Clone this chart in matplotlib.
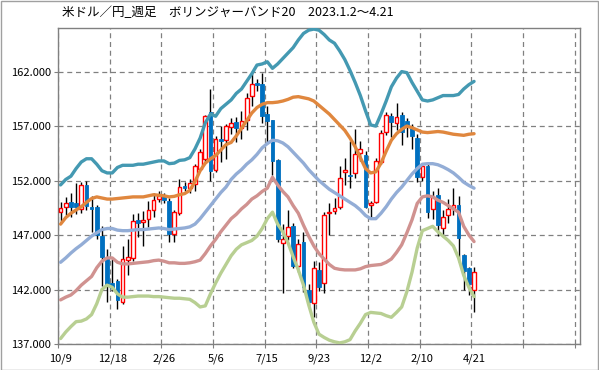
import numpy as np
import matplotlib.pyplot as plt
from matplotlib.patches import Rectangle

plt.rcParams['font.family'] = ['Noto Sans CJK JP', 'DejaVu Sans']

title = "米ドル／円_週足　ボリンジャーバンド20　2023.1.2～4.21"
date_labels = ["10/9", "12/18", "2/26", "5/6", "7/15", "9/23", "12/2", "2/10", "4/21"]

# weekly candles (open, high, low, close)
opens = [149.1, 149.6, 150.0, 149.9, 149.4, 151.55, 149.6, 149.6, 146.9, 144.9,
         142.6, 142.8, 140.9, 144.7, 144.9, 148.4, 148.2, 148.5, 149.3, 150.3,
         150.55, 150.15, 147.1, 149.05, 151.5, 151.35, 151.65, 153.1, 154.0, 158.25,
         153.0, 155.8, 155.7, 156.95, 157.4, 156.85, 157.55, 159.8, 160.95, 160.85,
         158.1, 157.55, 153.85, 146.3, 146.9, 147.8, 144.15, 146.35, 142.0, 140.75,
         143.8, 142.6, 149.0, 149.2, 149.6, 152.8, 152.55, 152.7, 154.55, 154.3,
         149.8, 150.0, 153.7, 156.45, 157.9, 157.3, 158.0, 157.45, 156.8, 155.9,
         152.35, 153.3, 149.35, 150.7, 147.65, 148.85, 149.45, 149.8, 145.2, 144.0,
         142.0]
highs = [150.0, 150.5, 150.9, 151.8, 151.9, 152.0, 150.6, 149.8, 147.8, 145.7,
         144.8, 143.0, 146.0, 146.6, 148.9, 149.0, 149.2, 150.1, 150.9, 151.0,
         150.9, 150.4, 149.3, 152.1, 151.9, 152.1, 153.5, 154.9, 158.0, 160.4,
         156.1, 157.0, 157.2, 157.7, 157.8, 158.4, 160.0, 162.0, 161.3, 161.9,
         158.85, 157.6, 154.0, 148.0, 149.3, 148.1, 146.6, 147.3, 142.5, 144.6,
         144.5, 149.1, 149.9, 150.4, 153.3, 154.1, 155.6, 156.7, 155.6, 154.7,
         150.1, 154.1, 156.6, 158.3, 158.2, 159.1, 158.3, 157.7, 157.2, 156.3,
         153.6, 153.5, 151.0, 151.3, 149.3, 150.3, 151.3, 150.6, 145.3, 144.1,
         144.1]
lows = [148.3, 148.8, 148.7, 148.9, 149.0, 149.3, 147.3, 146.6, 142.3, 140.9,
        141.9, 140.2, 140.7, 143.3, 144.6, 146.8, 146.0, 147.7, 148.7, 150.0,
        149.9, 146.4, 146.4, 148.8, 151.0, 150.9, 151.0, 153.0, 153.6, 152.0,
        152.8, 153.7, 154.0, 156.3, 155.5, 155.8, 156.6, 158.8, 160.2, 157.3,
        155.4, 152.5, 146.4, 141.7, 146.5, 144.0, 143.6, 141.8, 140.5, 139.5,
        141.9, 141.7, 147.0, 148.9, 149.4, 151.6, 151.3, 152.2, 153.8, 149.5,
        148.6, 149.9, 153.5, 156.2, 156.0, 156.6, 155.3, 156.0, 154.9, 151.9,
        152.0, 148.6, 148.5, 146.9, 146.9, 148.1, 148.8, 144.5, 142.0, 141.5,
        139.9]
closes = [149.5, 149.9, 149.6, 149.6, 151.55, 149.65, 149.4, 147.0, 144.95, 142.3,
          142.1, 141.0, 144.8, 144.95, 148.25, 148.1, 148.4, 149.3, 150.25, 150.6,
          150.2, 147.05, 149.1, 151.4, 151.3, 151.8, 153.3, 154.6, 157.9, 152.9,
          155.85, 155.6, 157.0, 157.3, 156.85, 157.45, 159.6, 160.9, 160.8, 157.9,
          157.5, 153.8, 146.6, 146.65, 147.7, 144.2, 146.2, 142.2, 140.9, 144.0,
          142.2, 148.8, 149.1, 149.5, 152.25, 153.0, 152.4, 154.4, 154.85, 149.6,
          149.95, 153.8, 156.4, 158.0, 157.4, 157.85, 156.5, 156.95, 156.1, 152.35,
          153.35, 149.1, 150.5, 147.95, 148.65, 149.4, 149.75, 146.75, 143.7, 142.5,
          143.65]

# bollinger bands (20 weeks)
upper2 = [151.6, 152.1, 152.4, 153.1, 153.7, 154.0, 154.0, 153.5, 152.9, 152.7,
          152.7, 153.2, 153.4, 153.4, 153.4, 153.5, 153.5, 153.6, 153.7, 153.8,
          153.8, 153.55, 153.6, 153.85, 153.9, 154.1, 154.9, 155.9, 157.3, 158.1,
          157.9, 158.6, 159.0, 159.4, 160.0, 160.4, 161.1, 161.8, 162.6, 162.7,
          162.9, 162.3, 162.7, 163.2, 163.7, 164.2, 164.9, 165.5, 165.8, 165.9,
          165.8, 165.4, 164.9, 164.6, 163.9, 163.1, 162.1, 161.0, 159.8, 158.4,
          157.1, 157.0, 158.1, 159.3, 160.6, 161.4, 162.0, 161.9, 161.0, 160.2,
          159.4, 159.3, 159.4, 159.6, 159.8, 159.8, 159.8, 159.9, 160.4, 160.8,
          161.1]
upper1 = [148.0, 148.6, 149.0, 149.3, 149.6, 150.0, 150.35, 150.5, 150.4, 150.3,
          150.3, 150.35, 150.4, 150.45, 150.5, 150.5, 150.5, 150.6, 150.7, 150.65,
          150.6, 150.5, 150.55, 150.7, 150.8, 151.1, 151.9, 152.9, 153.6, 154.0,
          154.3, 154.8, 155.3, 155.5, 156.1, 156.8, 157.5, 158.2, 158.7, 159.0,
          159.15, 159.15, 159.2, 159.3, 159.45, 159.65, 159.7, 159.6, 159.5, 159.3,
          158.9, 158.5, 158.1, 157.6, 157.1, 156.6, 155.9, 155.1, 154.1, 153.1,
          152.7, 152.8, 153.6, 154.7, 155.7, 156.3, 156.7, 157.0, 156.85, 156.65,
          156.45, 156.4, 156.45, 156.5, 156.45, 156.35, 156.25, 156.2, 156.15, 156.25,
          156.3]
middle = [144.5, 144.9, 145.35, 145.75, 146.1, 146.5, 146.9, 147.2, 147.5, 147.6,
          147.6, 147.45, 147.4, 147.4, 147.45, 147.5, 147.5, 147.55, 147.6, 147.65,
          147.6, 147.5, 147.55, 147.6, 147.65, 147.75, 148.0, 148.5, 149.1, 149.7,
          150.3, 150.9, 151.4, 152.1, 152.6, 153.0, 153.5, 153.9, 154.4, 155.0,
          155.4, 155.7, 155.65, 155.45, 155.1, 154.6, 154.1, 153.6, 153.0, 152.5,
          152.0, 151.6, 151.2, 150.9, 150.6, 150.3, 150.0, 149.7, 149.3, 148.8,
          148.5, 148.5, 149.0, 149.6, 150.3, 150.9, 151.4, 152.0, 152.6, 153.1,
          153.5, 153.55, 153.55, 153.45, 153.25, 153.0, 152.7, 152.3, 151.85, 151.55,
          151.3]
lower1 = [141.05, 141.3, 141.5, 141.9, 142.4, 142.8, 143.2, 144.0, 144.6, 144.9,
          144.9, 144.5, 144.35, 144.35, 144.4, 144.45, 144.5, 144.55, 144.65, 144.7,
          144.6, 144.45, 144.45, 144.4, 144.4, 144.45, 144.55, 144.7, 145.3, 146.0,
          146.6, 147.3, 147.9, 148.5, 148.9, 149.4, 149.8, 150.3, 150.6, 151.0,
          151.3, 152.3, 151.6, 151.0, 150.5, 149.7, 149.0, 147.9, 146.9, 146.0,
          145.3, 144.8, 144.3, 143.95, 143.85, 143.8, 143.8, 143.8, 143.9, 144.1,
          144.2, 144.25, 144.3, 144.5, 144.8, 145.4, 146.1, 147.2, 148.4, 149.9,
          150.5, 150.6, 150.5, 150.2, 150.0, 149.7, 149.4, 149.1, 147.8, 147.0,
          146.4]
lower2 = [137.5, 138.1, 138.6, 139.05, 139.1, 139.3, 139.7, 140.7, 142.0, 142.4,
          142.2, 141.6, 141.3, 141.3, 141.35, 141.4, 141.4, 141.4, 141.35, 141.35,
          141.3, 141.25, 141.2, 141.2, 141.15, 141.1, 140.8, 140.4, 140.5, 141.6,
          142.6, 143.5, 144.3, 145.1, 145.7, 146.1, 146.3, 146.5, 146.9, 147.6,
          148.5, 149.1, 148.0, 147.3, 146.3, 145.0, 143.8, 142.4, 140.6, 139.0,
          137.9, 137.6, 137.35, 137.2, 137.1, 137.2, 137.4, 138.2, 138.9, 139.7,
          139.9, 139.85, 139.8, 139.6, 139.45, 139.9, 140.4, 141.8, 143.6, 145.8,
          147.4, 147.6, 147.8, 147.3, 146.9, 146.5, 146.0, 144.9, 143.3, 142.2,
          141.35]

W, H = 599, 370
fig = plt.figure(figsize=(W / 100, H / 100), dpi=100)
ax = fig.add_axes([58 / W, 1 - 344 / H, (580 - 58) / W, (344 - 28) / H])

x = np.arange(len(closes))
ax.set_xlim(-0.5, 100.5)
ax.set_ylim(137, 166)

# grid
for gx in np.arange(-0.5, 101, 10):
    ax.axvline(gx, color="#808080", lw=0.9, ls=(0, (4, 3)), zorder=0)
for gy in range(137, 166, 5):
    ax.axhline(gy, color="#808080", lw=0.9, ls=(0, (4, 3)), zorder=0)

# candles
bw = 0.72
for i in x:
    o, h, l, c = opens[i], highs[i], lows[i], closes[i]
    ax.vlines(i, l, h, color="black", lw=1.0, zorder=2)
    if c >= o:
        ax.add_patch(Rectangle((i - bw / 2, o), bw, c - o, facecolor="white",
                               edgecolor="#FF0000", lw=1.0, zorder=3))
    else:
        ax.add_patch(Rectangle((i - bw / 2, c), bw, o - c, facecolor="#0070C0",
                               edgecolor="#0070C0", lw=0.6, zorder=3))

# bands
band_lw = 2.4
ax.plot(x, upper2, color="#4499B2", lw=band_lw, zorder=4, solid_capstyle="round")
ax.plot(x, upper1, color="#E0873E", lw=band_lw, zorder=4, solid_capstyle="round")
ax.plot(x, middle, color="#93ADD6", lw=band_lw, zorder=4, solid_capstyle="round")
ax.plot(x, lower1, color="#D09290", lw=band_lw, zorder=4, solid_capstyle="round")
ax.plot(x, lower2, color="#B8CF92", lw=band_lw, zorder=4, solid_capstyle="round")

# axes
for s in ax.spines.values():
    s.set_color("#808080")
    s.set_linewidth(1.0)
ax.set_yticks(range(137, 166, 5))
ax.set_yticklabels([f"{v:.3f}" for v in range(137, 166, 5)], fontsize=8)
ax.tick_params(axis="y", length=3, color="#808080", pad=2)
ax.set_xticks(np.arange(-0.5, 101, 10))
ax.set_xticklabels([])
ax.tick_params(axis="x", which="major", length=3, color="#808080")
ax.set_xticks(np.arange(0, 81, 10), minor=True)
ax.set_xticklabels(date_labels, minor=True, fontsize=8)
ax.tick_params(axis="x", which="minor", length=0, pad=7)

fig.text(62 / W, 1 - 13 / H, title, fontsize=9, va="center", ha="left")
fig.add_artist(Rectangle((0.5 / W, 0.5 / H), 1 - 1.5 / W, 1 - 1.5 / H,
                         transform=fig.transFigure, fill=False,
                         edgecolor="#A0A0A0", lw=1.0))

fig.savefig("out.png", dpi=100)
